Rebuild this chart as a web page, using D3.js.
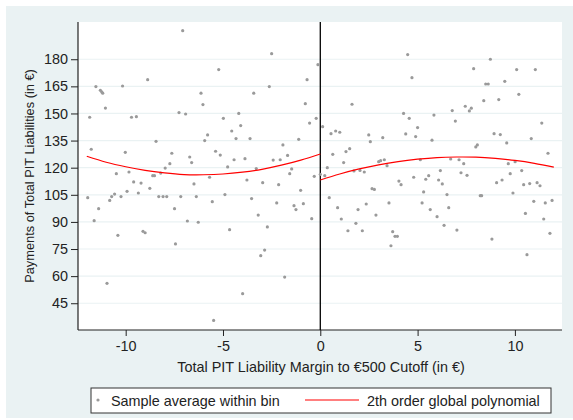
<!DOCTYPE html>
<html>
<head>
<meta charset="utf-8">
<script src="https://cdn.jsdelivr.net/npm/d3@7"></script>
<style>
  html, body { margin: 0; padding: 0; background: #ffffff; }
  svg { display: block; font-family: "Liberation Sans", Arial, sans-serif; }
</style>
</head>
<body>
<svg id="chart" width="573" height="420"></svg>
<script>
// ---- data ----
const binX = [
  -11.95,-11.85,-11.77,-11.62,-11.53,-11.39,-11.30,-11.23,-11.18,-11.04,
  -10.96,-10.82,-10.72,-10.57,-10.48,-10.40,-10.24,-10.16,-10.02,-9.93,
  -9.83,-9.70,-9.59,-9.45,-9.35,-9.21,-9.11,-9.00,-8.87,-8.76,
  -8.61,-8.52,-8.44,-8.30,-8.20,-8.08,-7.97,-7.89,-7.73,-7.63,
  -7.49,-7.44,-7.26,-7.17,-7.07,-6.92,-6.83,-6.71,-6.61,-6.49,
  -6.37,-6.27,-6.13,-6.03,-5.94,-5.79,-5.69,-5.55,-5.48,-5.38,
  -5.22,-5.14,-4.98,-4.90,-4.76,-4.66,-4.55,-4.43,-4.33,-4.19,
  -4.09,-3.99,-3.87,-3.77,-3.61,-3.53,-3.42,-3.29,-3.19,-3.06,
  -2.96,-2.86,-2.72,-2.62,-2.50,-2.42,-2.24,-2.14,-2.06,-1.92,
  -1.83,-1.68,-1.57,-1.47,-1.35,-1.25,-1.11,-1.01,-0.87,-0.77,
  -0.68,-0.55,-0.44,-0.31,-0.21,-0.12,
  0.00,0.12,0.23,0.36,0.46,0.55,0.64,0.79,0.89,1.00,
  1.08,1.20,1.32,1.42,1.51,1.63,1.73,1.83,1.94,2.04,
  2.16,2.26,2.36,2.49,2.57,2.66,2.78,2.86,3.00,3.10,
  3.21,3.29,3.43,3.53,3.63,3.72,3.84,3.96,4.04,4.15,
  4.28,4.39,4.49,4.57,4.71,4.80,4.90,5.00,5.14,5.23,
  5.31,5.42,5.57,5.65,5.74,5.84,6.00,6.08,6.17,6.27,
  6.36,6.51,6.60,6.70,6.78,6.94,7.02,7.13,7.23,7.37,
  7.45,7.54,7.66,7.76,7.88,7.99,8.07,8.22,8.29,8.40,
  8.50,8.63,8.74,8.82,8.93,9.06,9.17,9.25,9.34,9.48,
  9.58,9.66,9.76,9.90,10.01,10.09,10.20,10.35,10.45,10.54,
  10.62,10.76,10.84,10.97,11.05,11.14,11.29,11.38,11.48,11.56,
  11.70,11.80,11.91
];
const binY = [
  103.4,147.9,130.2,90.7,164.9,97.3,162.8,161.9,161.2,153.0,
  56.0,101.9,104.0,105.4,116.7,82.6,104.0,165.2,128.5,106.9,
  117.6,147.9,112.1,148.2,106.0,111.5,84.8,84.0,168.7,108.6,
  115.6,115.6,134.6,104.0,117.0,104.0,119.8,104.0,122.2,128.0,
  97.3,77.8,150.5,104.0,195.8,149.7,90.5,125.9,122.8,111.0,
  104.0,89.8,161.2,154.9,135.0,138.1,114.7,101.2,35.5,129.1,
  174.3,127.0,147.3,105.1,120.4,85.7,140.3,124.4,136.1,150.0,
  143.3,50.3,125.0,113.2,136.1,102.9,161.2,119.5,93.8,71.3,
  111.7,74.4,87.2,164.9,183.1,124.2,100.5,110.6,124.4,132.6,
  59.5,126.8,116.7,119.3,99.0,96.8,135.7,107.5,100.1,155.4,
  168.7,144.7,91.8,115.2,147.3,177.0,
  116.3,142.7,115.6,120.0,103.4,138.8,127.4,140.3,97.9,139.6,
  91.6,122.8,128.9,85.1,130.5,155.1,118.2,89.2,96.8,118.5,
  85.1,117.6,99.9,138.1,134.4,108.4,108.0,93.8,123.3,123.9,
  136.6,124.4,121.1,100.5,76.8,84.6,82.0,82.0,112.6,110.6,
  150.0,138.7,182.6,147.3,169.8,114.7,137.2,142.2,124.4,100.5,
  106.6,113.6,115.6,96.8,135.2,149.1,92.9,113.2,118.4,111.0,
  88.1,105.1,97.9,124.8,151.6,145.8,85.5,124.4,117.2,122.2,
  154.0,115.8,151.4,152.9,174.8,131.5,132.6,104.5,104.5,157.1,
  166.3,166.3,180.0,80.5,138.8,111.7,157.7,138.3,113.2,167.8,
  133.7,122.2,116.7,106.0,123.3,174.3,160.6,118.4,110.6,94.7,
  71.9,111.2,136.1,101.4,174.3,111.7,110.0,144.7,91.6,100.5,
  128.0,83.7,101.9
];
const fitLeftX  = [-12,-11,-10,-9,-8,-7,-6,-5,-4,-3,-2,-1,0];
const fitLeftY  = [126.3,123.0,120.5,118.5,117.1,116.2,116.1,116.5,117.5,119.1,121.4,124.2,127.6];
const fitRightX = [0,1,2,3,4,5,6,7,8,9,10,11,12];
const fitRightY = [113.2,116.5,119.3,121.6,123.4,124.7,125.6,125.9,125.8,125.1,124.0,122.4,120.3];
const xTicks = [-10,-5,0,5,10];
const yTicks = [45,60,75,90,105,120,135,150,165,180];
const xTitle = "Total PIT Liability Margin to €500 Cutoff (in €)";
const yTitle = "Payments of Total PIT Liabilities (in €)";
const legendLabels = ["Sample average within bin", "2th order global polynomial"];

// ---- drawing ----
const svg = d3.select("#chart");
const W = 573, H = 420;
const plot = {left: 78, right: 562, top: 22, bottom: 330};
const bg = "#eaf2f3";
const fs = 14.4;

svg.append("rect").attr("x", 6).attr("y", 6).attr("width", W - 6).attr("height", 412).attr("fill", bg);
svg.append("rect").attr("x", plot.left).attr("y", plot.top)
  .attr("width", plot.right - plot.left).attr("height", plot.bottom - plot.top).attr("fill", "#ffffff");

const x = d3.scaleLinear().domain([-12.45, 12.42]).range([plot.left, plot.right]);
const y = d3.scaleLinear().domain([30.2, 200.6]).range([plot.bottom, plot.top]);

// gridlines
svg.append("g").selectAll("line").data(yTicks).join("line")
  .attr("x1", plot.left).attr("x2", plot.right)
  .attr("y1", d => y(d)).attr("y2", d => y(d))
  .attr("stroke", bg).attr("stroke-width", 1.2);

// axes
const yAxis = svg.append("g").attr("transform", `translate(${plot.left},0)`)
  .call(d3.axisLeft(y).tickValues(yTicks).tickSize(7).tickPadding(3).tickSizeOuter(0));
const xAxis = svg.append("g").attr("transform", `translate(0,${plot.bottom})`)
  .call(d3.axisBottom(x).tickValues(xTicks).tickSize(6).tickPadding(5).tickSizeOuter(0)
    .tickFormat(d => d < 0 ? "-" + Math.abs(d) : d));
[yAxis, xAxis].forEach(a => {
  a.select(".domain").attr("stroke", "#222").attr("stroke-width", 1.2);
  a.selectAll(".tick line").attr("stroke", "#222").attr("stroke-width", 1);
  a.selectAll(".tick text").attr("font-size", fs).attr("fill", "#222")
    .attr("font-family", "'Liberation Sans', Arial, sans-serif");
});
yAxis.select(".domain").attr("d", `M0,${plot.top}V${plot.bottom}`);
xAxis.select(".domain").attr("d", `M${plot.left},0H${plot.right}`);

// cutoff line
svg.append("line").attr("x1", x(0)).attr("x2", x(0)).attr("y1", plot.top).attr("y2", plot.bottom)
  .attr("stroke", "#000").attr("stroke-width", 1.3);

// points
svg.append("g").selectAll("circle").data(binX.map((d, i) => [d, binY[i]])).join("circle")
  .attr("cx", d => x(d[0])).attr("cy", d => y(d[1])).attr("r", 1.6).attr("fill", "#9a9a9a");

// fit lines
const line = d3.line().x(d => x(d[0])).y(d => y(d[1])).curve(d3.curveNatural);
svg.append("path").datum(fitLeftX.map((d, i) => [d, fitLeftY[i]]))
  .attr("d", line).attr("fill", "none").attr("stroke", "#ff0000").attr("stroke-width", 1.2);
svg.append("path").datum(fitRightX.map((d, i) => [d, fitRightY[i]]))
  .attr("d", line).attr("fill", "none").attr("stroke", "#ff0000").attr("stroke-width", 1.2);

// axis titles
svg.append("text").attr("x", 321).attr("y", 372)
  .attr("text-anchor", "middle").attr("font-size", fs).attr("fill", "#222").text(xTitle);
svg.append("text").attr("transform", `translate(34,${(plot.top + plot.bottom) / 2}) rotate(-90)`)
  .attr("text-anchor", "middle").attr("font-size", 12.8).attr("fill", "#222").text(yTitle);

// legend
const lg = svg.append("g");
lg.append("rect").attr("x", 91).attr("y", 388).attr("width", 460).attr("height", 25)
  .attr("fill", "#fff").attr("stroke", "#333").attr("stroke-width", 1);
lg.append("circle").attr("cx", 98).attr("cy", 400).attr("r", 1.6).attr("fill", "#9a9a9a");
lg.append("text").attr("x", 111).attr("y", 405.5).attr("font-size", fs).attr("fill", "#222").text(legendLabels[0]);
lg.append("line").attr("x1", 305).attr("x2", 359).attr("y1", 400).attr("y2", 400)
  .attr("stroke", "#ff0000").attr("stroke-width", 1.2);
lg.append("text").attr("x", 367).attr("y", 405.5).attr("font-size", fs).attr("fill", "#222").text(legendLabels[1]);
</script>
</body>
</html>
